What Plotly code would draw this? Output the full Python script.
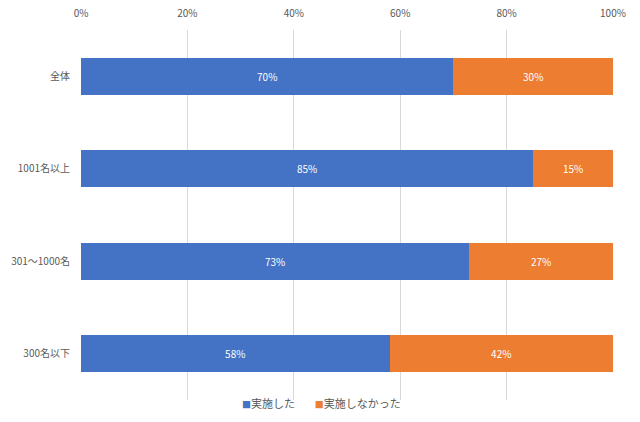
import plotly.graph_objects as go

categories = ["全体", "1001名以上", "301～1000名", "300名以下"]
did = [70, 85, 73, 58]
did_not = [30, 15, 27, 42]
series_names = ["実施した", "実施しなかった"]
series_colors = ["#4472C4", "#ED7D31"]
tick_vals = [0, 20, 40, 60, 80, 100]
tick_text = ["0%", "20%", "40%", "60%", "80%", "100%"]

font_family = "Noto Sans CJK JP"
fig = go.Figure()
for vals, name, col in zip([did, did_not], series_names, series_colors):
    fig.add_trace(go.Bar(
        y=categories, x=vals, name=name, orientation="h",
        marker=dict(color=col, line=dict(width=0)),
        text=[f"{v}%" for v in vals], textposition="inside", insidetextanchor="middle",
        textfont=dict(color="white", size=10, family=font_family),
        showlegend=False,
    ))

legend_html = "&nbsp;&nbsp;&nbsp;&nbsp;&nbsp;&nbsp;&nbsp;&nbsp;".join(
    f"<span style='color:{c};font-size:9px'>■</span>{n}" for n, c in zip(series_names, series_colors)
)
fig.add_annotation(
    text=legend_html, xref="paper", yref="paper", x=0.452, y=-0.008,
    xanchor="center", yanchor="middle", showarrow=False,
    font=dict(size=11, color="#595959", family=font_family),
)

fig.update_layout(
    barmode="stack", bargap=0.6,
    width=640, height=422,
    margin=dict(l=81, r=27, t=30, b=22),
    paper_bgcolor="white", plot_bgcolor="white",
    font=dict(family=font_family, size=10, color="#595959"),
    uniformtext=dict(minsize=8, mode="show"),
)
fig.update_xaxes(
    side="top", range=[0, 100], tickvals=tick_vals, ticktext=tick_text,
    showgrid=True, gridcolor="#D9D9D9", gridwidth=1, zeroline=False,
    showline=False, ticks="", tickfont=dict(size=10, color="#595959"),
    automargin=False, ticklabelstandoff=10,
)
fig.update_yaxes(
    autorange="reversed", showgrid=False, zeroline=False, showline=False,
    ticks="", ticklabelstandoff=10, automargin=False,
    tickfont=dict(size=10, color="#595959"),
)
fig.write_html("out.html", post_script="document.body.style.margin='0px';",
               config={"displayModeBar": False})
